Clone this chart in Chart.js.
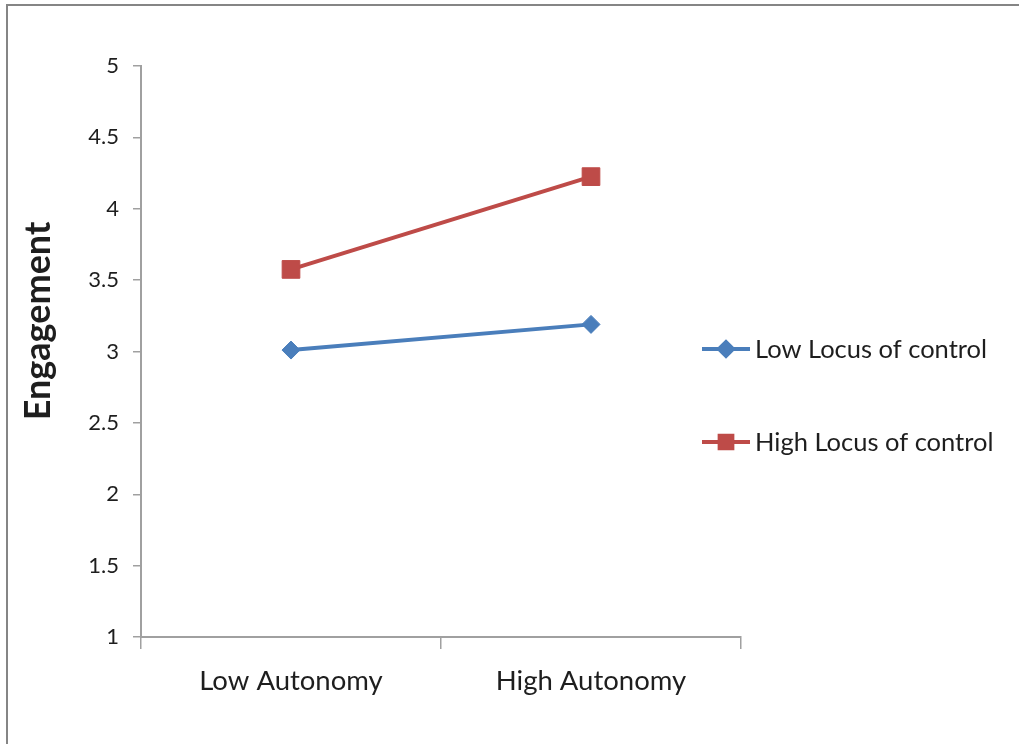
<!DOCTYPE html>
<html>
<head>
<meta charset="utf-8">
<script src="https://cdn.jsdelivr.net/npm/chart.js@4.4.0/dist/chart.umd.min.js"></script>
<style>
  html, body { margin: 0; padding: 0; background: #fff; }
  #wrap { position: relative; width: 1019px; height: 744px; }
</style>
</head>
<body>
<div id="wrap"><canvas id="chart"></canvas></div>
<script>
/* ================================================
   DATA
================================================ */

const CATEGORIES   = ['Low Autonomy', 'High Autonomy'];
const LOW_LOCUS    = [3.01, 3.19];
const HIGH_LOCUS   = [3.575, 4.225];
const SERIES_NAMES = ['Low Locus of control', 'High Locus of control'];
const Y_TICKS      = [1, 1.5, 2, 2.5, 3, 3.5, 4, 4.5, 5];
const Y_TITLE      = 'Engagement';

/* ================================================
   STYLE
================================================ */

const FONT_FAMILY = 'Lato, "Open Sans", sans-serif';
const AXIS_COLOR  = '#a0a0a0';
const TEXT_COLOR  = '#1e1e1e';
const BLUE        = '#4a7ebb';
const RED         = '#be4b48';

/* Frame, title and legend are drawn by hand */
const extrasPlugin = {
  id: 'extras',
  afterDraw(chart) {
    const ctx = chart.ctx;
    ctx.save();

    /* outer frame (only top/left edges show) */
    ctx.strokeStyle = '#858585';
    ctx.lineWidth = 2;
    ctx.beginPath();
    ctx.moveTo(7, 760);
    ctx.lineTo(7, 5);
    ctx.lineTo(1030, 5);
    ctx.stroke();

    /* y axis title */
    ctx.fillStyle = TEXT_COLOR;
    ctx.font = 'bold 36px ' + FONT_FAMILY;
    ctx.textAlign = 'center';
    ctx.textBaseline = 'middle';
    ctx.translate(38, 321);
    ctx.rotate(-Math.PI / 2);
    ctx.fillText(Y_TITLE, 0, 0);
    ctx.restore();

    /* legend */
    const rows = [349, 442];
    chart.data.datasets.forEach((ds, i) => {
      const y = rows[i];
      ctx.save();
      ctx.strokeStyle = ds.borderColor;
      ctx.lineWidth = 4;
      ctx.beginPath();
      ctx.moveTo(702, y);
      ctx.lineTo(750, y);
      ctx.stroke();
      Chart.helpers.drawPoint(ctx, {
        pointStyle: ds.pointStyle,
        radius: ds.pointStyle === 'rect' ? 9 : 7,
        borderWidth: 1,
      }, 726, y);
      ctx.fillStyle = ds.borderColor;
      ctx.fill();
      ctx.fillStyle = TEXT_COLOR;
      ctx.font = '25.5px ' + FONT_FAMILY;
      ctx.textAlign = 'left';
      ctx.textBaseline = 'middle';
      ctx.fillText(ds.label, 755, y + 1);
      ctx.restore();
    });
  },
};

new Chart(document.getElementById('chart').getContext('2d'), {
  type: 'line',
  data: {
    labels: CATEGORIES,
    datasets: [
      {
        label: SERIES_NAMES[0],
        data: LOW_LOCUS,
        borderColor: BLUE,
        backgroundColor: BLUE,
        borderWidth: 4,
        pointStyle: 'rectRot',
        pointRadius: 9,
        pointBorderWidth: 1,
      },
      {
        label: SERIES_NAMES[1],
        data: HIGH_LOCUS,
        borderColor: RED,
        backgroundColor: RED,
        borderWidth: 4,
        pointStyle: 'rect',
        pointRadius: 12.5,
        pointBorderWidth: 1,
      },
    ],
  },
  options: {
    responsive: true,
    maintainAspectRatio: false,
    animation: false,
    layout: { padding: { top: 66, right: 278, left: 60, bottom: 0 } },
    plugins: {
      legend:  { display: false },
      tooltip: { enabled: false },
    },
    scales: {
      x: {
        offset: true,
        afterFit: s => { s.height = 744 - 637; },
        border: { color: AXIS_COLOR, width: 2 },
        grid: {
          offset: true,
          drawOnChartArea: false,
          color: AXIS_COLOR,
          lineWidth: 1.5,
          tickLength: 12,
        },
        ticks: {
          color: TEXT_COLOR,
          font: { family: FONT_FAMILY, size: 27.5 },
          padding: 16,
          maxRotation: 0,
        },
      },
      y: {
        min: 1,
        max: 5,
        afterFit: s => { s.width = 141 - 60; },
        afterBuildTicks: s => { s.ticks = Y_TICKS.map(v => ({ value: v })); },
        border: { color: AXIS_COLOR, width: 2 },
        grid: {
          drawOnChartArea: false,
          color: AXIS_COLOR,
          lineWidth: 1.5,
          tickLength: 8,
        },
        ticks: {
          color: TEXT_COLOR,
          font: { family: FONT_FAMILY, size: 22 },
          padding: 14,
          callback: v => String(v),
        },
      },
    },
  },
  plugins: [extrasPlugin],
});
</script>
</body>
</html>
